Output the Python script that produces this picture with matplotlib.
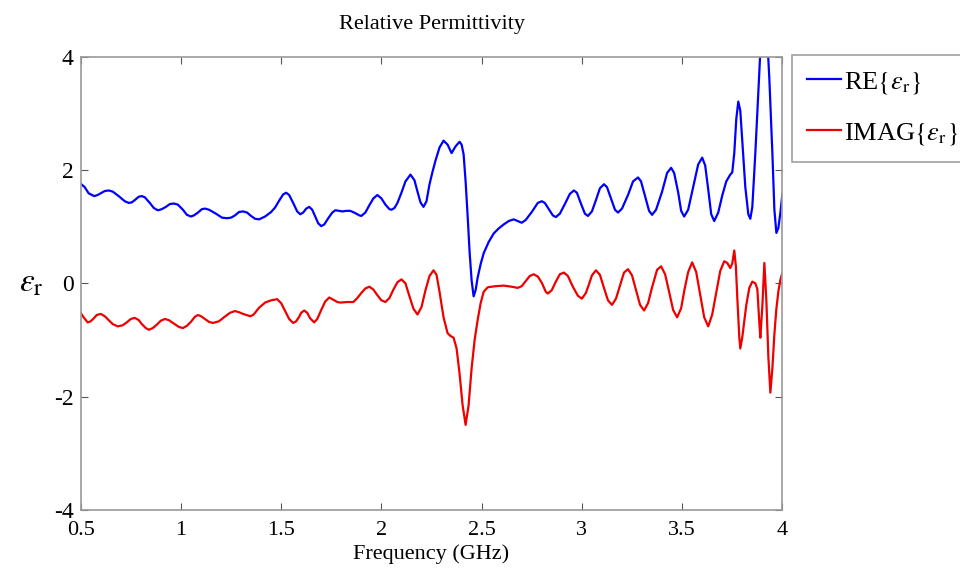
import matplotlib
matplotlib.use("Agg")
import matplotlib.pyplot as plt

plt.rcParams['font.family'] = ['Liberation Serif', 'DejaVu Serif']
plt.rcParams['mathtext.fontset'] = 'stix'

re_freq = [0.50, 0.52, 0.54, 0.568, 0.585, 0.60, 0.62, 0.64, 0.66, 0.69, 0.72, 0.74, 0.755, 0.77,
           0.79, 0.805, 0.82, 0.845, 0.865, 0.885, 0.905, 0.925, 0.945, 0.965, 0.985, 1.01, 1.03,
           1.05, 1.065, 1.085, 1.105, 1.12, 1.14, 1.175, 1.205, 1.23, 1.25, 1.27, 1.29, 1.31, 1.33,
           1.35, 1.37, 1.39, 1.42, 1.45, 1.47, 1.49, 1.51, 1.525, 1.54, 1.56, 1.58, 1.595, 1.61,
           1.625, 1.64, 1.655, 1.67, 1.685, 1.70, 1.715, 1.735, 1.755, 1.77, 1.79, 1.805, 1.825,
           1.845, 1.87, 1.89, 1.90, 1.92, 1.94, 1.96, 1.98, 2.0, 2.02, 2.04, 2.05, 2.065, 2.08,
           2.10, 2.12, 2.145, 2.165, 2.18, 2.195, 2.21, 2.225, 2.24, 2.255, 2.27, 2.29, 2.31, 2.33,
           2.35, 2.37, 2.39, 2.40, 2.41, 2.42, 2.43, 2.44, 2.45, 2.46, 2.47, 2.48, 2.495, 2.51,
           2.535, 2.56, 2.585, 2.61, 2.635, 2.66, 2.68, 2.70, 2.72, 2.75, 2.78, 2.80, 2.815, 2.835,
           2.855, 2.87, 2.89, 2.915, 2.94, 2.96, 2.975, 2.995, 3.015, 3.03, 3.05, 3.07, 3.09, 3.11,
           3.125, 3.145, 3.165, 3.18, 3.20, 3.23, 3.255, 3.28, 3.295, 3.315, 3.335, 3.35, 3.37,
           3.40, 3.425, 3.445, 3.46, 3.48, 3.495, 3.51, 3.53, 3.555, 3.58, 3.60, 3.615, 3.63, 3.645,
           3.66, 3.68, 3.70, 3.72, 3.74, 3.75, 3.76, 3.77, 3.78, 3.79, 3.80, 3.815, 3.83, 3.84,
           3.85, 3.865, 3.88, 3.89, 3.91, 3.925, 3.935, 3.95, 3.96, 3.97, 3.98, 3.99, 4.0]
re_vals = [1.76, 1.70, 1.59, 1.54, 1.56, 1.59, 1.63, 1.64, 1.62, 1.54, 1.45, 1.42, 1.43, 1.47,
           1.53, 1.54, 1.52, 1.42, 1.33, 1.29, 1.31, 1.35, 1.40, 1.41, 1.39, 1.30, 1.21,
           1.18, 1.20, 1.25, 1.31, 1.32, 1.30, 1.23, 1.16, 1.15, 1.16, 1.20, 1.26, 1.27, 1.25,
           1.19, 1.14, 1.13, 1.18, 1.26, 1.34, 1.46, 1.57, 1.60, 1.56, 1.42, 1.27, 1.22, 1.25,
           1.32, 1.35, 1.30, 1.18, 1.06, 1.01, 1.04, 1.15, 1.25, 1.29, 1.28, 1.27, 1.28,
           1.28, 1.24, 1.20, 1.19, 1.25, 1.38, 1.50, 1.56, 1.50, 1.39, 1.31, 1.30, 1.33, 1.42,
           1.60, 1.80, 1.92, 1.82, 1.62, 1.43, 1.35, 1.45, 1.75, 1.97, 2.17, 2.40, 2.52, 2.45,
           2.30, 2.42, 2.50, 2.45, 2.28, 1.80, 1.20, 0.55, 0.05, -0.23, -0.12, 0.10, 0.34, 0.53,
           0.73, 0.88, 0.97, 1.04, 1.10, 1.13, 1.10, 1.07, 1.12, 1.26, 1.42, 1.45, 1.42, 1.31,
           1.20, 1.17, 1.23, 1.40, 1.58, 1.64, 1.60, 1.41, 1.23, 1.19, 1.27, 1.47, 1.68, 1.75,
           1.70, 1.50, 1.30, 1.25, 1.32, 1.56, 1.80, 1.87, 1.80, 1.54, 1.28, 1.21, 1.30,
           1.62, 1.95, 2.04, 1.95, 1.61, 1.28, 1.18, 1.30, 1.70, 2.10, 2.22, 2.08, 1.66, 1.22,
           1.10, 1.25, 1.55, 1.80, 1.92, 1.96, 2.30, 2.90, 3.21, 3.05, 2.50, 1.70, 1.22, 1.14,
           1.35, 2.30, 3.40, 4.10, 4.80, 4.30, 3.60, 2.30, 1.30, 0.89, 0.98, 1.25, 1.58]

im_freq = [0.50, 0.515, 0.535, 0.55, 0.565, 0.58, 0.60, 0.62, 0.64, 0.66, 0.685, 0.71, 0.73, 0.75,
           0.77, 0.79, 0.805, 0.825, 0.84, 0.86, 0.88, 0.90, 0.92, 0.94, 0.965, 0.99, 1.01, 1.03,
           1.05, 1.07, 1.085, 1.10, 1.12, 1.14, 1.16, 1.19, 1.215, 1.245, 1.27, 1.29, 1.31, 1.345,
           1.36, 1.37, 1.39, 1.42, 1.45, 1.48, 1.50, 1.52, 1.54, 1.56, 1.575, 1.59, 1.60, 1.615,
           1.63, 1.645, 1.665, 1.68, 1.70, 1.72, 1.74, 1.76, 1.78, 1.795, 1.83, 1.86, 1.88, 1.90,
           1.92, 1.94, 1.96, 1.98, 2.00, 2.02, 2.04, 2.06, 2.08, 2.10, 2.12, 2.14, 2.16, 2.18,
           2.20, 2.22, 2.24, 2.26, 2.275, 2.29, 2.31, 2.33, 2.345, 2.36, 2.375, 2.39, 2.405, 2.42,
           2.435, 2.45, 2.465, 2.48, 2.495, 2.51, 2.53, 2.57, 2.61, 2.65, 2.68, 2.70, 2.72, 2.74,
           2.76, 2.78, 2.80, 2.82, 2.83, 2.85, 2.87, 2.89, 2.91, 2.93, 2.955, 2.98, 3.0, 3.02,
           3.035, 3.05, 3.07, 3.09, 3.11, 3.13, 3.15, 3.17, 3.19, 3.21, 3.23, 3.25, 3.27, 3.29,
           3.31, 3.33, 3.35, 3.375, 3.395, 3.415, 3.435, 3.455, 3.475, 3.495, 3.51, 3.53, 3.55,
           3.57, 3.59, 3.61, 3.63, 3.65, 3.67, 3.69, 3.71, 3.725, 3.74, 3.75, 3.76, 3.768, 3.775,
           3.785, 3.79, 3.80, 3.82, 3.835, 3.85, 3.865, 3.875, 3.885, 3.89, 3.90, 3.91, 3.92,
           3.93, 3.94, 3.95, 3.96, 3.97, 3.98, 3.99, 4.0]
im_vals = [-0.52, -0.60, -0.69, -0.67, -0.62, -0.56, -0.54, -0.58, -0.65, -0.72, -0.76, -0.74, -0.69, -0.63,
           -0.61, -0.65, -0.72, -0.79, -0.82, -0.79, -0.73, -0.66, -0.63, -0.65, -0.71, -0.77, -0.79, -0.75,
           -0.68, -0.59, -0.56, -0.58, -0.63, -0.68, -0.70, -0.67, -0.60, -0.52, -0.49, -0.51, -0.54, -0.58,
           -0.56, -0.52, -0.43, -0.34, -0.30, -0.28, -0.35, -0.49, -0.63, -0.70, -0.67, -0.59, -0.52, -0.48,
           -0.52, -0.62, -0.69, -0.63, -0.47, -0.32, -0.25, -0.29, -0.33, -0.34, -0.33, -0.33, -0.26, -0.17,
           -0.09, -0.06, -0.11, -0.21, -0.30, -0.33, -0.26, -0.11, 0.02, 0.07, 0.00, -0.23, -0.45, -0.55,
           -0.42, -0.12, 0.13, 0.23, 0.15, -0.15, -0.60, -0.88, -0.93, -0.96, -1.15, -1.60, -2.15, -2.50,
           -2.15, -1.50, -1.00, -0.65, -0.35, -0.15, -0.07, -0.05, -0.04, -0.06, -0.08, -0.05, 0.04, 0.13,
           0.16, 0.12, 0.01, -0.15, -0.18, -0.12, 0.03, 0.16, 0.19, 0.13, -0.06, -0.22, -0.27, -0.17,
           -0.02, 0.14, 0.23, 0.15, -0.08, -0.30, -0.38, -0.27, -0.04, 0.19, 0.25, 0.14, -0.12, -0.38,
           -0.48, -0.35, -0.07, 0.24, 0.30, 0.16, -0.15, -0.47, -0.60, -0.44, -0.14, 0.20, 0.37,
           0.20, -0.20, -0.60, -0.76, -0.55, -0.16, 0.22, 0.39, 0.36, 0.27, 0.35, 0.58, 0.30, -0.25,
           -0.95, -1.15, -0.95, -0.38, -0.08, 0.03, 0.00, -0.10, -0.70, -0.96, -0.40, 0.36, -0.30,
           -1.30, -1.93, -1.50, -0.90, -0.45, -0.14, 0.06, 0.19]

x_ticks = [0.5, 1, 1.5, 2, 2.5, 3, 3.5, 4]
x_tick_labels = ['0.5', '1', '1.5', '2', '2.5', '3', '3.5', '4']
y_ticks = [-4, -2, 0, 2, 4]
y_tick_labels = ['-4', '-2', '0', '2', '4']

fig = plt.figure(figsize=(9.6, 5.8), dpi=100)
ax = fig.add_axes([0.084, 0.121, 0.731, 0.781])

ax.plot(re_freq, re_vals, color='#0000ff', lw=1.6, label=r'RE$\{\varepsilon_{\mathrm{r}}\}$')
ax.plot(im_freq, im_vals, color='#ee0000', lw=1.6, label=r'IMAG$\{\varepsilon_{\mathrm{r}}\}$')

ax.set_xlim(0.5, 4)
ax.set_ylim(-4, 4)
ax.set_xticks(x_ticks)
ax.set_xticklabels(x_tick_labels)
ax.set_yticks(y_ticks)
ax.set_yticklabels(y_tick_labels)
ax.tick_params(direction='in', top=True, right=True, length=5, color='#555555')
ax.tick_params(axis='x', pad=8, labelsize=16)
ax.tick_params(axis='y', pad=5, labelsize=17)
for s in ax.spines.values():
    s.set_color('#999999')
    s.set_linewidth(1.2)

ax.set_title('Relative Permittivity', fontsize=16, pad=20)
ax.set_xlabel('Frequency (GHz)', fontsize=16, labelpad=3)
ax.set_ylabel(r'$\varepsilon_{\mathrm{r}}$', fontsize=24, labelpad=16, rotation=0, va='center')

leg = ax.legend(loc='upper left', bbox_to_anchor=(1.014, 1.003), fontsize=19, frameon=True,
                fancybox=False, borderaxespad=0, handlelength=1.3, handletextpad=0.1,
                borderpad=0.55, labelspacing=0.95)
leg.get_frame().set_edgecolor('#888888')
leg.get_frame().set_linewidth(1.2)

fig.savefig('out.png', dpi=100)
